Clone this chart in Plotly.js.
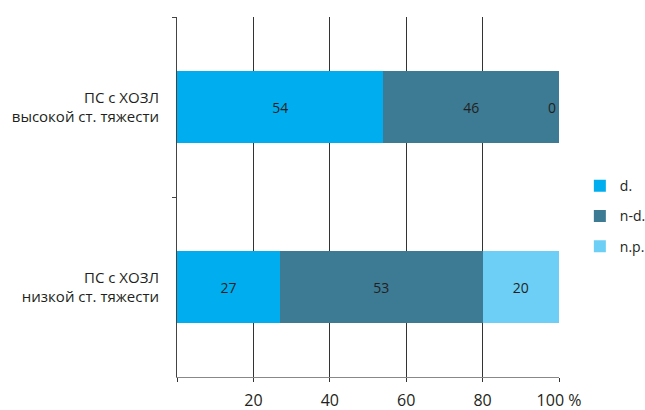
<!DOCTYPE html>
<html>
<head>
<meta charset="utf-8">
<script src="https://cdn.plot.ly/plotly-3.0.1.min.js"></script>
<style>html,body{margin:0;padding:0;background:#fff;}#chart{width:645px;height:410px;}</style>
</head>
<body>
<div id="chart"></div>
<script>
var categories = ['ПС с ХОЗЛ<br>высокой ст. тяжести', 'ПС с ХОЗЛ<br>низкой ст. тяжести'];
var seriesNames = ['d.', 'n-d.', 'n.p.'];
var dValues = [54, 27];
var ndValues = [46, 53];
var npValues = [0, 20];
var xTickVals = [0, 20, 40, 60, 80, 100];
var xTickText = ['', '20', '40', '60', '80', '100 %'];

var colors = ['#00aeef', '#3d7a94', '#6dcff6'];
var font = 'Open Sans, Noto Sans, sans-serif';
var series = [dValues, ndValues, npValues];

var traces = series.map(function (vals, i) {
  return {
    type: 'bar',
    orientation: 'h',
    name: seriesNames[i],
    legendgroup: 'g' + i,
    y: categories,
    x: vals,
    marker: {color: colors[i], line: {width: 0}},
    text: vals.map(function (v) { return v === 0 ? '' : String(v); }),
    textposition: 'inside',
    insidetextanchor: 'middle',
    textangle: 0,
    constraintext: 'none',
    textfont: {family: font, size: 14, color: '#231f20'},
    hoverinfo: 'x+name'
  };
});

// zero-valued segments: label at the stack end
var annotations = [];
categories.forEach(function (c, j) {
  series.forEach(function (vals, i) {
    if (vals[j] === 0) {
      var end = 0;
      for (var k = 0; k <= i; k++) end += series[k][j];
      annotations.push({
        x: end, y: c, xref: 'x', yref: 'y', text: String(vals[j]),
        showarrow: false, xanchor: 'right', xshift: -1,
        font: {family: font, size: 14, color: '#231f20'}
      });
    }
  });
});

var layout = {
  width: 645, height: 410,
  margin: {l: 177, r: 86, t: 17, b: 33},
  paper_bgcolor: '#fff', plot_bgcolor: '#fff',
  barmode: 'stack',
  bargap: 0.605,
  showlegend: true,
  legend: {
    xref: 'container', yref: 'container',
    x: 0.899, y: 0.585, xanchor: 'left', yanchor: 'top',
    traceorder: 'grouped',
    font: {family: font, size: 14, color: '#231f20'},
    itemwidth: 30, tracegroupgap: 9,
    bgcolor: 'rgba(0,0,0,0)'
  },
  xaxis: {
    range: [0, 100],
    tickvals: xTickVals, ticktext: xTickText,
    ticks: 'outside', ticklen: 4, tickcolor: '#333', tickwidth: 1,
    showgrid: true, gridcolor: '#333', gridwidth: 1,
    zeroline: false,
    showline: true, linecolor: '#888', linewidth: 1,
    ticklabelstandoff: 5,
    tickfont: {family: font, size: 16, color: '#231f20'},
    fixedrange: true
  },
  yaxis: {
    type: 'category',
    autorange: 'reversed',
    tickson: 'boundaries',
    ticks: 'outside', ticklen: 4, tickcolor: '#444',
    showgrid: false, zeroline: false,
    showline: true, linecolor: '#444', linewidth: 1,
    ticklabelstandoff: 14,
    tickfont: {family: font, size: 15, color: '#231f20'},
    fixedrange: true
  },
  annotations: annotations
};

Plotly.newPlot('chart', traces, layout, {displayModeBar: false, staticPlot: true});
</script>
</body>
</html>
